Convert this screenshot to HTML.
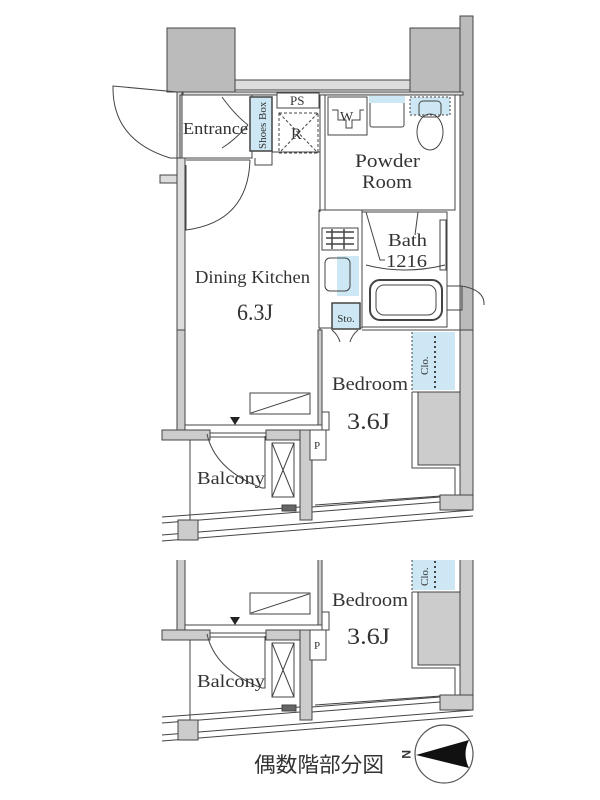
<!DOCTYPE html>
<html><head><meta charset="utf-8"><style>
html,body{margin:0;padding:0;background:#fff;width:600px;height:800px;overflow:hidden}
svg{display:block}
text{font-family:"Liberation Serif","Noto Serif CJK SC",serif;fill:#333}
</style></head><body>
<svg width="600" height="800" viewBox="0 0 600 800" xmlns="http://www.w3.org/2000/svg">
<defs>
<clipPath id="lowclip"><rect x="0" y="560" width="600" height="200"/></clipPath>
<g id="lowerpart" stroke="#444" stroke-width="1" fill="none">
  <rect x="177" y="330" width="8" height="100" fill="#ccc"/>
  <line x1="185" y1="330" x2="185" y2="425"/>
  <line x1="185" y1="425" x2="320" y2="425"/>
  <rect x="318" y="330" width="4" height="95" fill="#ccc"/>
  <rect x="322" y="412" width="7" height="18" fill="#fff"/>
  <rect x="250" y="393" width="60" height="21" fill="#fff"/>
  <line x1="251" y1="413" x2="309" y2="394"/>
  <polygon points="230,417 240,417 235,425" fill="#222" stroke="none"/>
  <rect x="162" y="430" width="48" height="10" fill="#ccc"/>
  <rect x="266" y="430" width="40" height="10" fill="#ccc"/>
  <rect x="300" y="430" width="12" height="90" fill="#ccc"/>
  <line x1="210" y1="433" x2="266" y2="433"/><line x1="210" y1="437" x2="266" y2="437"/>
  <path d="M207 434 Q215 470 262 488 L265 488 L265 436"/>
  <rect x="272" y="443" width="22" height="54" fill="#fff"/>
  <line x1="272" y1="443" x2="294" y2="497"/><line x1="294" y1="443" x2="272" y2="497"/>
  <rect x="310" y="430" width="16" height="30" fill="#fff"/>
  <line x1="190" y1="440" x2="190" y2="520"/>
  <path d="M412 392 L418 392 L418 465 L460 465 L460 392 Z" fill="#ccc"/>
  <path d="M412 392 L412 468 L455 468 L455 495 L315 505" />
  <rect x="460" y="330" width="13" height="180" fill="#ccc"/>
  <rect x="440" y="495" width="33" height="15" fill="#ccc"/>
  <line x1="162" y1="517" x2="300" y2="507"/>
  <line x1="162" y1="523" x2="300" y2="512"/>
  <line x1="312" y1="507" x2="440" y2="497"/>
  <line x1="312" y1="512" x2="440" y2="502"/>
  <line x1="162" y1="535" x2="473" y2="510"/>
  <line x1="162" y1="541" x2="473" y2="516"/>
  <rect x="178" y="520" width="20" height="20" fill="#ccc"/>
  <rect x="282" y="505" width="14" height="6" fill="#666"/>
  <rect x="412" y="332" width="43" height="58" fill="#cde8f4" stroke="none"/>
  <line x1="412" y1="332" x2="412" y2="390" stroke-dasharray="2,2"/>
  <line x1="435" y1="336" x2="435" y2="388" stroke-dasharray="2,3" stroke-width="2"/>
</g>
</defs>

<g stroke="#444" stroke-width="1" fill="none">
  <rect x="167" y="28" width="68" height="64" fill="#bbb"/>
  <rect x="410" y="28" width="50" height="64" fill="#bbb"/>
  <rect x="460" y="16" width="13" height="320" fill="#bbb"/>
  <rect x="235" y="80" width="175" height="10" fill="#ddd"/>
  <rect x="183" y="92" width="280" height="3" fill="#ddd"/>
  <path d="M177 92 L113 86 Q112 140 170 158 L177 158" />
  <rect x="177" y="92" width="5" height="68" fill="#ddd"/>
  <rect x="180" y="95" width="72" height="63"/>
  <rect x="250" y="97" width="22" height="54" fill="#cde8f4" stroke-width="1.5"/>
  <path d="M222 97 Q235 115 248 125 M222 148 Q235 140 248 125" />
  <line x1="186" y1="160" x2="250" y2="160"/>
  <path d="M250 160 Q248 222 186 230 L186 165"/>
  <rect x="277" y="93" width="42" height="15" fill="#fff"/>
  <rect x="279" y="113" width="39" height="40" stroke-dasharray="3,2"/>
  <line x1="279" y1="113" x2="318" y2="153" stroke-dasharray="3,2"/>
  <line x1="318" y1="113" x2="279" y2="153" stroke-dasharray="3,2"/>
  <rect x="177" y="158" width="8" height="272" fill="#ddd"/>
  <rect x="160" y="175" width="17" height="8" fill="#ddd"/>
  <line x1="185" y1="168" x2="185" y2="330"/>
  <path d="M255 158 L255 165 L272 165 L272 152 L320 152"/>
  <line x1="320" y1="95" x2="320" y2="212"/>
  <rect x="325" y="95" width="130" height="115"/>
  <rect x="328" y="97" width="39" height="38"/>
  <path d="M332 110 L338 110 L338 120 L346 120 L346 128 L352 128 L352 120 L360 120 L360 110 L364 110"/>
  <rect x="370" y="100" width="34" height="27" rx="2"/>
  <rect x="369" y="96" width="36" height="7" fill="#cde8f4" stroke="none"/>
  <rect x="410" y="97" width="40" height="18" fill="#cde8f4" stroke-dasharray="2,2"/>
  <rect x="419" y="101" width="22" height="16" rx="4"/>
  <ellipse cx="430" cy="132" rx="13" ry="18"/>
  <rect x="319" y="210" width="43" height="118"/>
  <rect x="322" y="228" width="36" height="22"/>
  <path d="M326 232 h28 M326 238 h28 M326 244 h28 M332 229 v20 M344 229 v20" stroke-width="1.5"/>
  <rect x="337" y="256" width="22" height="40" fill="#cde8f4" stroke="none"/>
  <rect x="325" y="258" width="25" height="33" rx="5"/>
  <rect x="332" y="303" width="28" height="26" fill="#cde8f4" stroke-width="1.5"/>
  <path d="M332 330 Q338 335 340 342 M358 330 Q352 335 350 342"/>
  <rect x="362" y="212" width="85" height="115"/>
  <rect x="440" y="220" width="6" height="50"/>
  <path d="M366 265 Q405 275 445 265"/>
  <rect x="370" y="280" width="72" height="40" rx="10" stroke-width="2"/>
  <rect x="376" y="285" width="60" height="30" rx="8"/>
  <path d="M366 212 L380 260 L385 260 M418 212 L415 235"/>
  <path d="M447 286 L462 286 L462 310 L447 310 M462 286 Q485 290 484 305"/>
  <line x1="320" y1="328" x2="320" y2="335"/>
  <line x1="362" y1="330" x2="460" y2="330"/>
</g>
<use href="#lowerpart"/>
<g clip-path="url(#lowclip)"><use href="#lowerpart" transform="translate(0,200)"/></g>

<g>
  <text x="183" y="134" font-size="17" textLength="65" lengthAdjust="spacingAndGlyphs">Entrance</text>
  <text x="290" y="105" font-size="13">PS</text>
  <text x="291" y="139" font-size="16">R</text>
  <text x="340" y="121" font-size="14">W</text>
  <text x="355" y="167" font-size="19" textLength="65" lengthAdjust="spacingAndGlyphs">Powder</text>
  <text x="362" y="188" font-size="19" textLength="50" lengthAdjust="spacingAndGlyphs">Room</text>
  <text x="388" y="246" font-size="18" textLength="39" lengthAdjust="spacingAndGlyphs">Bath</text>
  <text x="386" y="267" font-size="18" textLength="41" lengthAdjust="spacingAndGlyphs">1216</text>
  <text x="195" y="283" font-size="18" textLength="115" lengthAdjust="spacingAndGlyphs">Dining Kitchen</text>
  <text x="237" y="320" font-size="23" textLength="36" lengthAdjust="spacingAndGlyphs">6.3J</text>
  <text x="346" y="322" text-anchor="middle" font-size="11">Sto.</text>
  <text x="332" y="390" font-size="19" textLength="76" lengthAdjust="spacingAndGlyphs">Bedroom</text>
  <text x="347" y="429" font-size="23" textLength="43" lengthAdjust="spacingAndGlyphs">3.6J</text>
  <text x="317" y="449" text-anchor="middle" font-size="11">P</text>
  <text x="197" y="484" font-size="18" textLength="68" lengthAdjust="spacingAndGlyphs">Balcony</text>
  <text transform="translate(266,149) rotate(-90)" font-size="11">Shoes Box</text>
  <text transform="translate(428,375) rotate(-90)" font-size="11">Clo.</text>
  <text x="332" y="606" font-size="19" textLength="76" lengthAdjust="spacingAndGlyphs">Bedroom</text>
  <text x="347" y="644" font-size="23" textLength="43" lengthAdjust="spacingAndGlyphs">3.6J</text>
  <text x="317" y="649" text-anchor="middle" font-size="11">P</text>
  <text x="197" y="687" font-size="18" textLength="68" lengthAdjust="spacingAndGlyphs">Balcony</text>
  <text transform="translate(428,586) rotate(-90)" font-size="11">Clo.</text>
  <text x="254" y="772" font-size="21" style="font-family:'Liberation Sans','Noto Sans CJK JP',sans-serif" textLength="130" lengthAdjust="spacingAndGlyphs">偶数階部分図</text>
</g>
<circle cx="444" cy="754" r="29" fill="#fff" stroke="#555" stroke-width="1.2"/>
<path d="M416 755 L469 740 Q462 754 469 768 Z" fill="#111"/>
<text x="400" y="760" font-size="12" font-weight="bold" style="font-family:'Liberation Sans',sans-serif" transform="rotate(90 406 756)">N</text>
</svg>
</body></html>
